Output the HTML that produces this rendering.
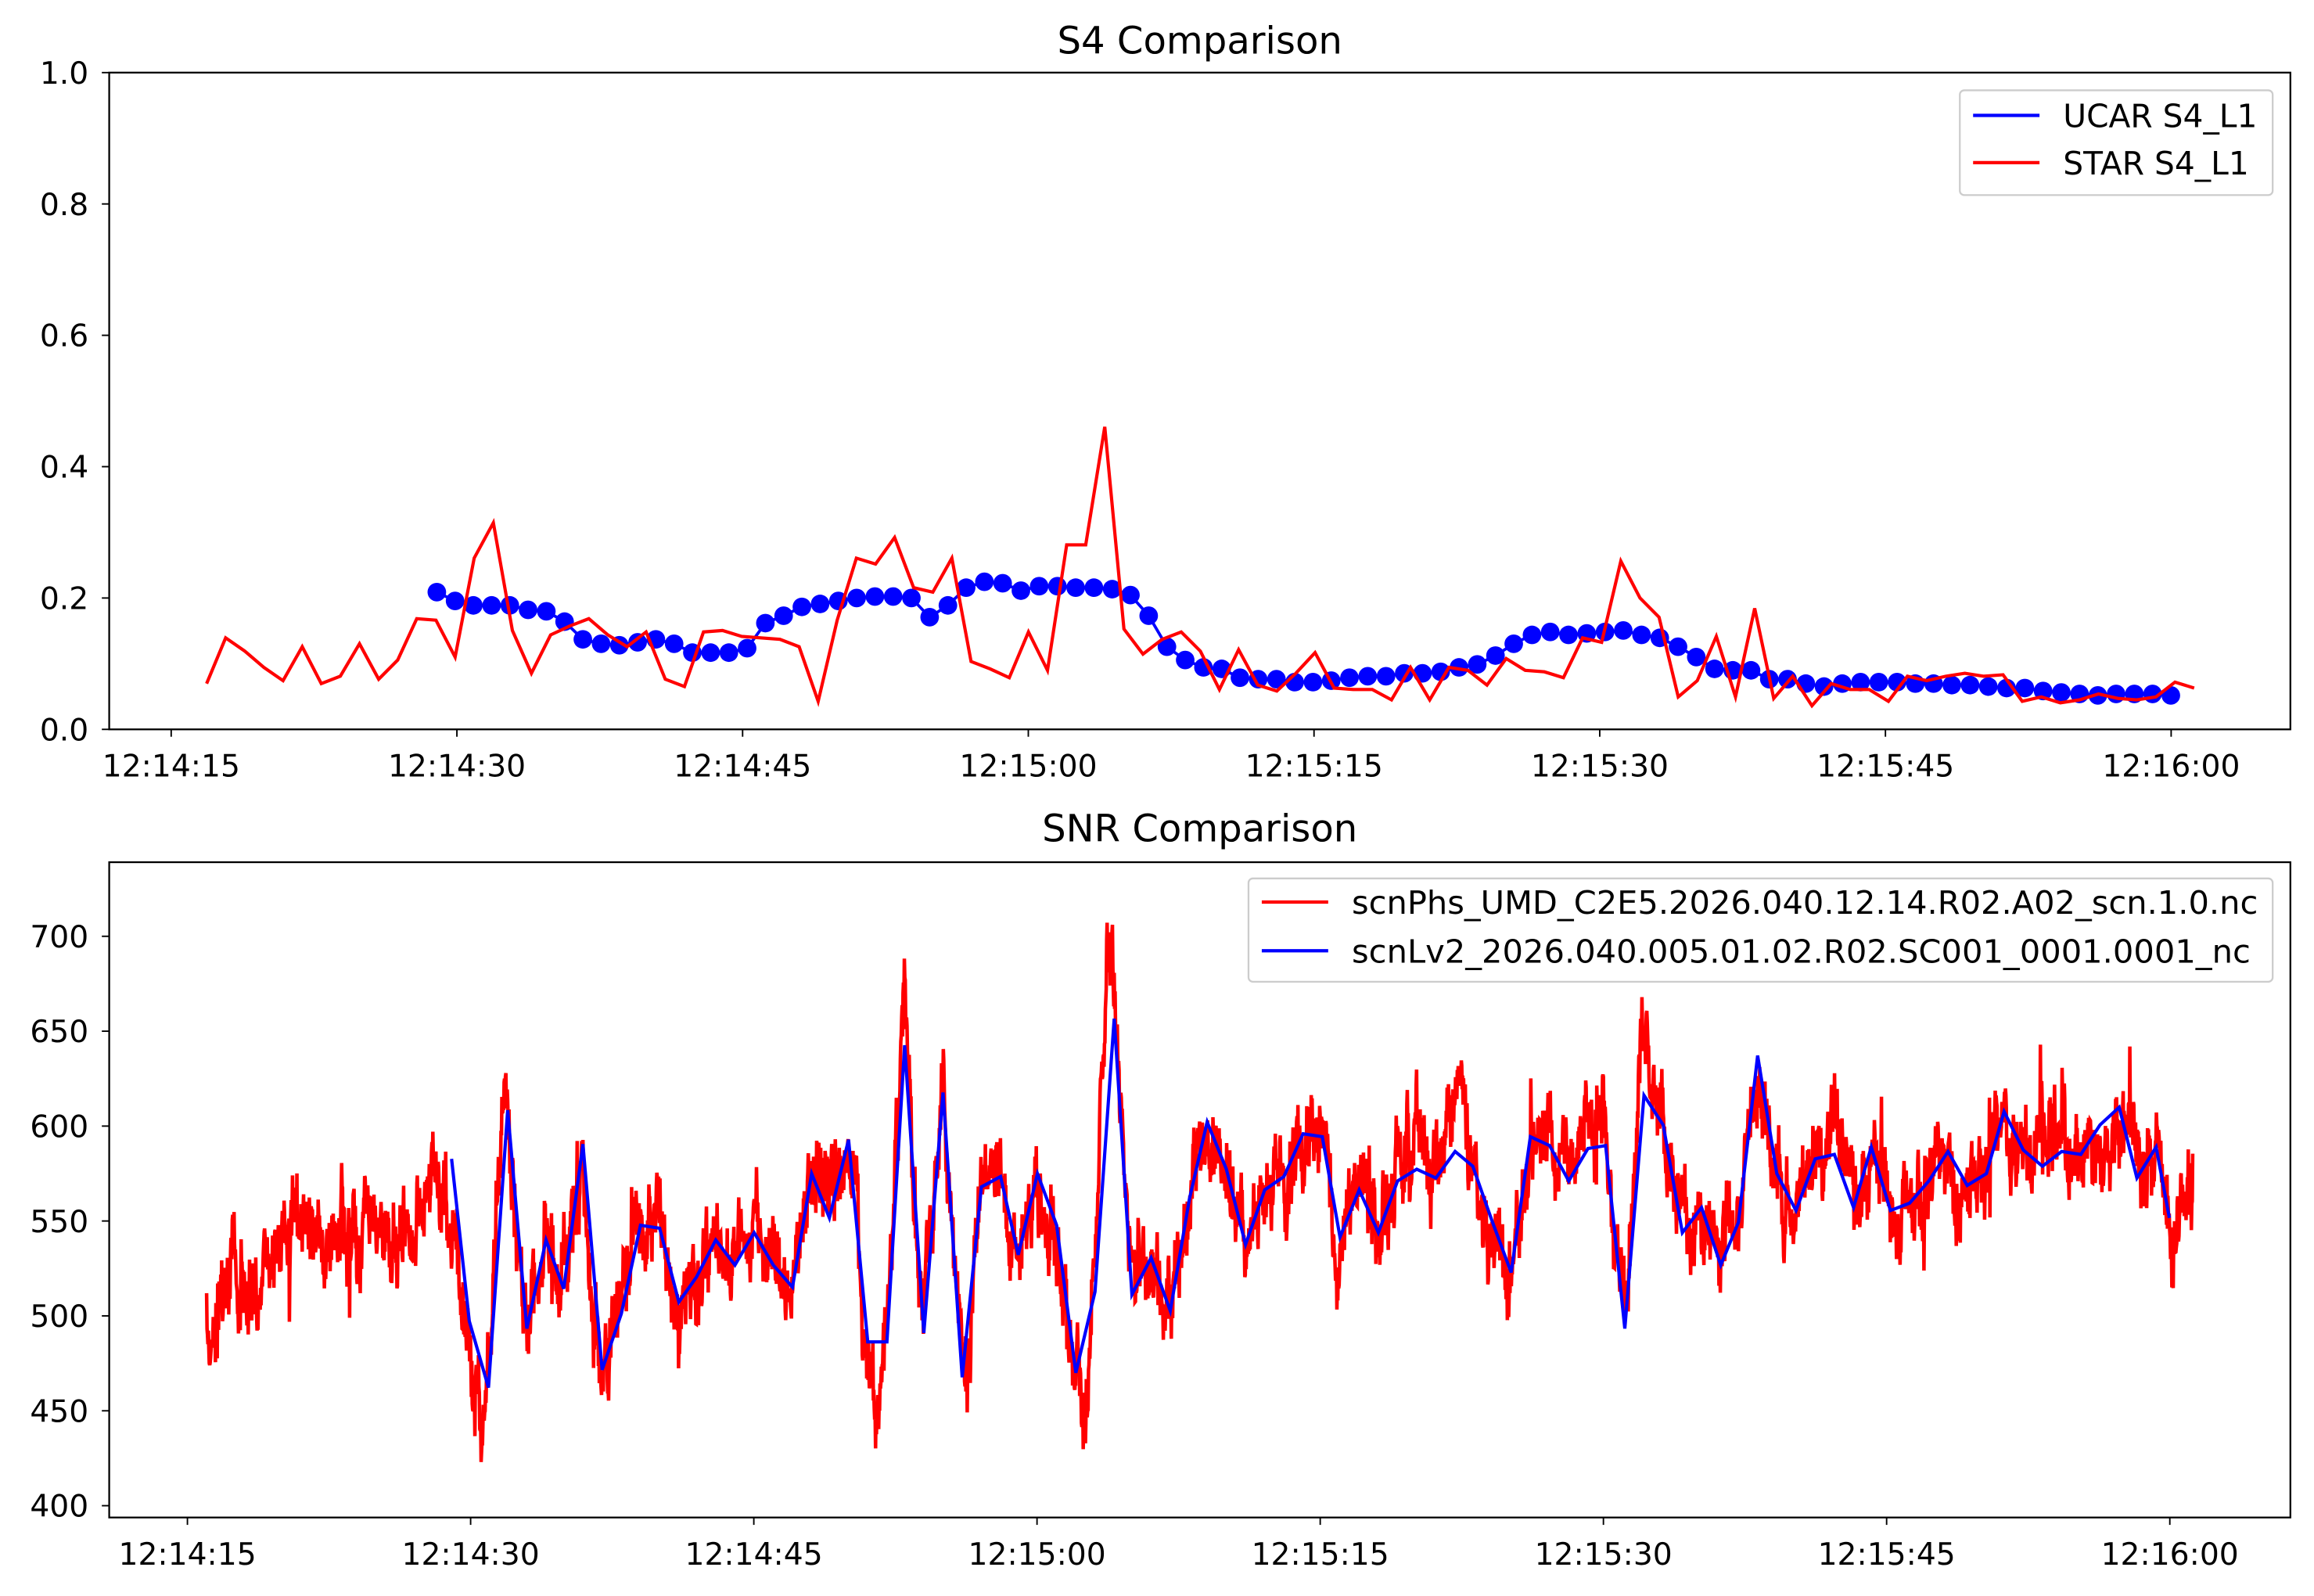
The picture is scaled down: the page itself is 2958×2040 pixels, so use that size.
<!DOCTYPE html>
<html><head><meta charset="utf-8"><style>
html,body{margin:0;padding:0;background:#fff;}
svg{display:block;}
text{font-family:"DejaVu Sans","Liberation Sans",sans-serif;fill:#000;}
</style></head><body>
<svg id="s" width="2958" height="2040" viewBox="0 0 1568 1081" xmlns="http://www.w3.org/2000/svg">
<rect width="1568" height="1081" fill="#fff"/>
<text x="813" y="36" font-size="25.5" text-anchor="middle">S4 Comparison</text>
<text x="813" y="570" font-size="25.5" text-anchor="middle">SNR Comparison</text>
<g id="gtop"></g>
<g id="gbot"></g>
<rect x="74" y="49" width="1478" height="445" fill="none" stroke="#000" stroke-width="1.2"/>
<rect x="74" y="584" width="1478" height="444" fill="none" stroke="#000" stroke-width="1.2"/>
<g id="ticks" font-size="20.8"></g>
<g>
<rect x="1328" y="61" width="212" height="71" rx="3" fill="#fff" fill-opacity="0.8" stroke="#ccc" stroke-width="1.2"/>
<line x1="1337" y1="78" x2="1382" y2="78" stroke="#00f" stroke-width="2.2"/>
<line x1="1337" y1="110" x2="1382" y2="110" stroke="#f00" stroke-width="2.2"/>
<text x="1398" y="86" font-size="21.6">UCAR S4_L1</text>
<text x="1398" y="118" font-size="21.6">STAR S4_L1</text>
<rect x="846" y="595" width="694" height="70" rx="3" fill="#fff" fill-opacity="0.8" stroke="#ccc" stroke-width="1.2"/>
<line x1="855" y1="611" x2="900" y2="611" stroke="#f00" stroke-width="2.2"/>
<line x1="855" y1="644" x2="900" y2="644" stroke="#00f" stroke-width="2.2"/>
<text x="916" y="619" font-size="21.6" textLength="614" lengthAdjust="spacingAndGlyphs">scnPhs_UMD_C2E5.2026.040.12.14.R02.A02_scn.1.0.nc</text>
<text x="916" y="652" font-size="21.6" textLength="609" lengthAdjust="spacingAndGlyphs">scnLv2_2026.040.005.01.02.R02.SC001_0001.0001_nc</text>
</g>
</svg>
<script>
(function(){
var NS="http://www.w3.org/2000/svg";
function el(p,t,a){var e=document.createElementNS(NS,t);for(var k in a)e.setAttribute(k,a[k]);p.appendChild(e);return e;}
var gt=document.getElementById('gtop'),gb=document.getElementById('gbot'),tk=document.getElementById('ticks');
var labs=["12:14:15","12:14:30","12:14:45","12:15:00","12:15:15","12:15:30","12:15:45","12:16:00"];
for(var i=0;i<8;i++){var x=116+i*193.6;el(tk,'line',{x1:x,y1:494,x2:x,y2:499,stroke:'#000'});var t=el(tk,'text',{x:x,y:526,'text-anchor':'middle'});t.textContent=labs[i];
var x2=127+i*191.9;el(tk,'line',{x1:x2,y1:1028,x2:x2,y2:1033,stroke:'#000'});t=el(tk,'text',{x:x2,y:1060,'text-anchor':'middle'});t.textContent=labs[i];}
for(var i=0;i<=5;i++){var y=494-i*89;el(tk,'line',{x1:69,y1:y,x2:74,y2:y,stroke:'#000'});var t=el(tk,'text',{x:60,y:y+7.5,'text-anchor':'end'});t.textContent=(i*0.2).toFixed(1);}
for(var i=0;i<=6;i++){var v=400+i*50,y=1020-i*64.3;el(tk,'line',{x1:69,y1:y,x2:74,y2:y,stroke:'#000'});var t=el(tk,'text',{x:60,y:y+7.5,'text-anchor':'end'});t.textContent=v;}
var r=[463,432,441,452,461,438,463,458,436,460,447,419,420,445,378,354,427,456,430,424,419,430,438,428,460,465,428,427,431,432,433,438,475,420,378,382,364,398,401,378,448,453,459,428,454,369,369,289,426,443,433,428,441,467,440,464,468,456,442,466,467,467,474,452,474,452,454,464,446,454,455,459,432,435,380,405,418,472,461,431,472,412,473,458,478,463,467,467,475,458,461,458,456,458,457,475,472,476,474,470,473,474,472,462,466];
var pts=r.map(function(y,i){return (140+i*12.95).toFixed(1)+','+y;}).join(' ');
var b=[401,407,410,410,410,413,414,421,433,436,437,435,433,436,442,442,442,439,422,417,411,409,407,405,404,404,405,418,410,398,394,395,400,397,397,398,398,399,403,417,438,447,452,453,459,460,460,462,462,461,459,458,458,456,456,455,452,450,444,436,430,428,430,429,428,427,430,432,438,445,453,454,454,460,460,463,465,463,462,462,462,463,463,464,464,465,466,466,468,469,470,471,470,470,470,471];
var bp=b.map(function(y,i){return [296+i*(1175/(b.length-1)),y];});
el(gt,'polyline',{points:bp.map(function(p){return p[0].toFixed(1)+','+p[1]}).join(' '),fill:'none',stroke:'#00f','stroke-width':2});
bp.forEach(function(p){el(gt,'circle',{cx:p[0],cy:p[1],r:6.3,fill:'#00f'});});
el(gt,'polyline',{points:pts,fill:'none',stroke:'#f00','stroke-width':2.2});
var B=[[306,785],[318,895],[331,940],[344,752],[357,900],[370,840],[382,873],[395,775],[408,928],[421,890],[434,830],[447,832],[460,882],[472,865],[485,840],[498,857],[511,835],[524,857],[537,872],[550,795],[562,825],[575,772],[588,909],[601,909],[613,708],[626,903],[639,740],[652,933],[665,804],[678,797],[690,850],[703,795],[716,830],[729,930],[742,875],[755,690],[767,877],[780,852],[793,888],[806,812],[818,760],[831,792],[844,843],[857,806],[870,797],[883,768],[896,770],[908,838],[921,806],[934,835],[947,800],[960,792],[973,798],[986,780],[998,790],[1011,827],[1024,862],[1037,770],[1050,776],[1063,800],[1076,778],[1088,776],[1101,900],[1114,742],[1127,762],[1140,835],[1153,818],[1166,857],[1178,828],[1191,715],[1204,795],[1217,820],[1230,785],[1243,782],[1256,818],[1268,777],[1281,820],[1294,815],[1307,800],[1320,780],[1333,803],[1346,795],[1358,753],[1371,779],[1384,790],[1397,780],[1410,782],[1423,762],[1436,750],[1448,798],[1461,777],[1470,825]];
var base=[[140,895],[160,860],[200,840],[250,830],[300,820]].concat(B.slice(1)).concat([[1486,790]]);
function bl(x){for(var i=0;i<base.length-1;i++){if(x<=base[i+1][0]){var f=(x-base[i][0])/(base[i+1][0]-base[i][0]);return base[i][1]+f*(base[i+1][1]-base[i][1]);}}return base[base.length-1][1];}
var bumps=[[750,-85,5],[327,55,3],[736,65,5],[594,55,4],[655,45,3],[1085,-35,4],[1113,-40,4],[340,-45,4],[580,-40,3],[612,-35,3],[296,-30,3],[482,-25,3]];
function bump(x){var s=0;bumps.forEach(function(q){var d=(x-q[0])/q[2];s+=q[1]*Math.exp(-d*d);});return s;}
var seed=7;function rnd(){seed=(seed*16807)%2147483647;return seed/2147483647;}
var rp=[],s1=0,s2=0;
for(var x=140;x<=1486;x+=0.3){s1=0.8*s1+(rnd()-0.5)*26;s2=0.96*s2+(rnd()-0.5)*10;var sp=(rnd()<0.012)?(rnd()-0.5)*100:0;var y=bl(x)*0.85+0.15*bl(x+6)+bump(x)+s1+s2+sp+(rnd()-0.5)*30;rp.push(x.toFixed(2)+','+y.toFixed(1));}
el(gb,'polyline',{points:rp.join(' '),fill:'none',stroke:'#f00','stroke-width':2.4});
el(gb,'polyline',{points:B.map(function(p){return p.join(',')}).join(' '),fill:'none',stroke:'#00f','stroke-width':2.2});
})();
</script>
</body></html>
